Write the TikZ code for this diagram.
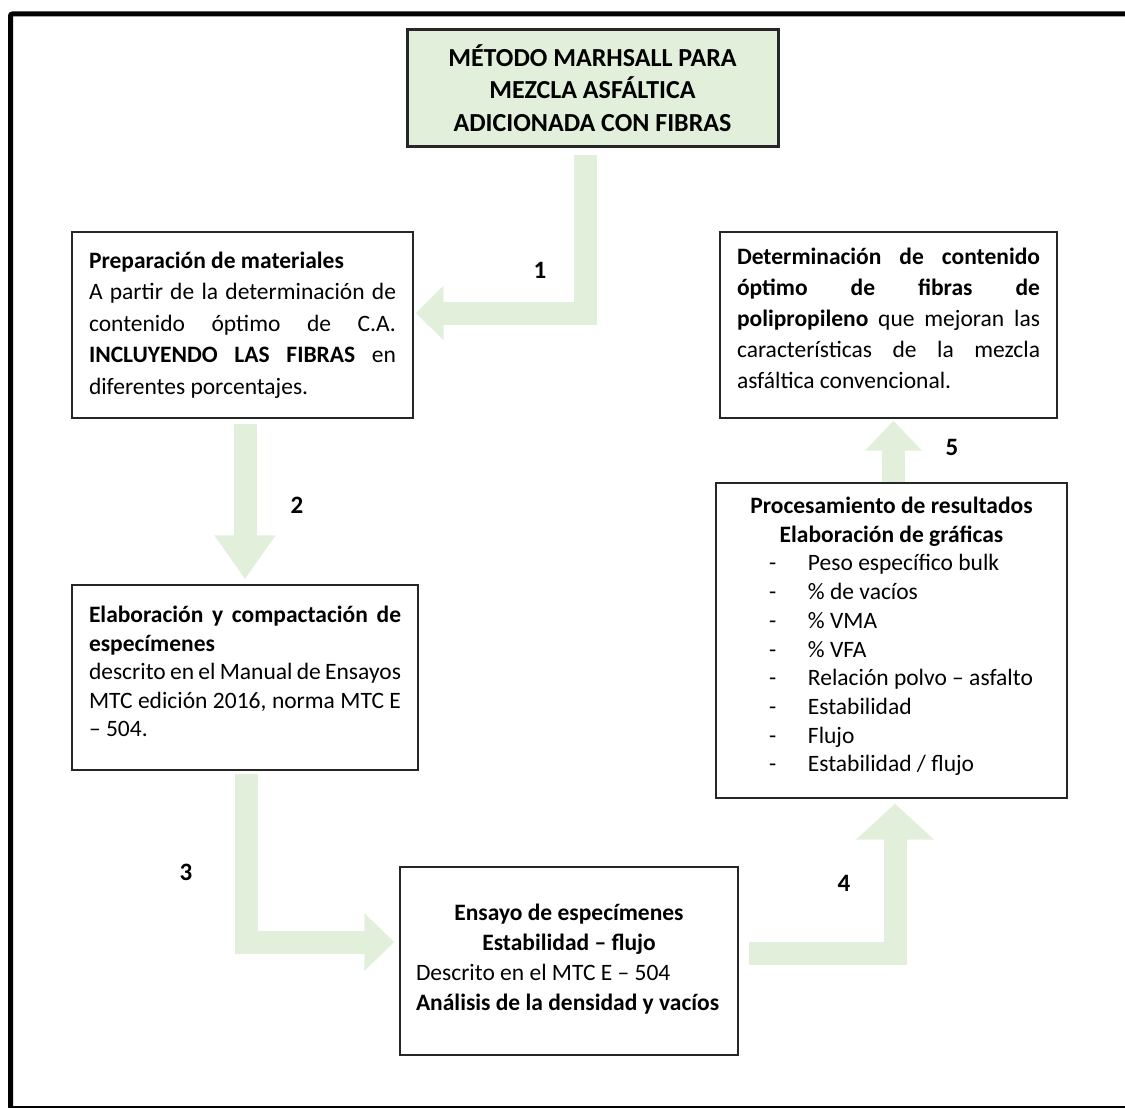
\documentclass[tikz,border=0pt]{standalone}
\usepackage{fontspec}
\setmainfont{Carlito}
\usetikzlibrary{positioning}
\usetikzlibrary{arrows.meta}
\definecolor{verdeclaro}{HTML}{E2EFDA}
\newcommand{\guion}[1]{\makebox[245pt][l]{\makebox[39pt][l]{-}#1}}

\begin{document}
\begin{tikzpicture}[x=1pt, y=-1pt,
    caja/.style={draw=black!85, line width=1.3pt, inner sep=0pt, font=\fontsize{23.5}{31}\selectfont},
    flecha/.style={draw=verdeclaro, line width=23pt, line join=miter, -{Triangle[length=30pt, width=56pt]}},
    num/.style={font=\fontsize{25}{28}\selectfont\bfseries}]
  \useasboundingbox (0,0) rectangle (1125,1108);
  \clip (0,0) rectangle (1125,1108);
  % Marco
  \draw[line width=5pt, rounded corners=2pt] (10.5,14) rectangle (1140,1108.5);

  % Cajas
  \node[caja, fill=verdeclaro, line width=3pt, minimum width=371pt, minimum height=116pt, align=center,
        font=\fontsize{26}{32.5}\selectfont\bfseries] (titulo) at (592.5,88)
        {MÉTODO MARHSALL PARA\\MEZCLA ASFÁLTICA\\ADICIONADA CON FIBRAS};
  \node[caja, minimum width=341pt, minimum height=186pt, text width=307pt, align=justify,
        font=\fontsize{23.5}{31.5}\selectfont] (prep) at (242.5,325)
        {\textbf{Preparación de materiales}\\ A partir de la determinación de\linebreak contenido óptimo de C.A.\linebreak
         \textbf{INCLUYENDO LAS FIBRAS} en\linebreak diferentes porcentajes.};
  \node[caja, minimum width=346pt, minimum height=185pt, text width=312pt, align=justify,
        font=\fontsize{23.5}{28.5}\selectfont] (elab) at (245,677.5)
        {\textbf{Elaboración y compactación de\linebreak especímenes}\\ descrito en el Manual de Ensayos\linebreak
         MTC edición 2016, norma MTC E\linebreak – 504.\par\kern12pt};
  \node[caja, minimum width=338pt, minimum height=188pt, text width=306pt, align=flush center,
        font=\fontsize{23.5}{30}\selectfont] (ensayo) at (569,961)
        {\spaceskip=0pt\xspaceskip=0pt\relax
         \textbf{Ensayo de especímenes}\\ \textbf{Estabilidad – flujo}\\
         \makebox[306pt][l]{Descrito en el MTC E – 504}\\ \makebox[306pt][l]{\textbf{Análisis de la densidad y vacíos}}\par\kern3pt};
  \node[caja, minimum width=351pt, minimum height=315pt, text width=317pt, align=flush center,
        font=\fontsize{23.5}{28.7}\selectfont] (proc) at (891.5,640.5)
        {\spaceskip=0pt\xspaceskip=0pt\relax
         \textbf{Procesamiento de resultados}\\ \textbf{Elaboración de gráficas}\\
         \guion{Peso específico bulk}\\ \guion{\% de vacíos}\\ \guion{\% VMA}\\ \guion{\% VFA}\\
         \guion{Relación polvo – asfalto}\\ \guion{Estabilidad}\\ \guion{Flujo}\\ \guion{Estabilidad / flujo}\par\kern8pt};
  \node[caja, minimum width=337pt, minimum height=186pt, text width=303pt, align=justify] (deter) at (888.5,325)
        {\textbf{Determinación de contenido\linebreak óptimo de fibras de\linebreak polipropileno} que mejoran las\linebreak
         características de la mezcla\linebreak asfáltica convencional.\par\kern14pt};

  % Flechas
  \draw[flecha, -{Triangle[length=28pt, width=53pt]}] ([xshift=-7.5pt, yshift=-7pt]titulo.south) |- ([xshift=2pt, yshift=12pt]prep.east);
  \draw[flecha, -{Triangle[length=44pt, width=58pt]}] ([xshift=2.5pt, yshift=-5pt]prep.south) -- ([yshift=5pt]elab.north);
  \draw[flecha] ([xshift=1pt, yshift=-3pt]elab.south) |- ([xshift=-5pt, yshift=19pt]ensayo.west);
  \draw[flecha, -{Triangle[length=36pt, width=76pt]}] ([xshift=10pt, yshift=8pt]ensayo.east) -| ([xshift=3.5pt, yshift=-5pt]proc.south);
  \draw[flecha, -{Triangle[length=30pt, width=55pt]}] ([xshift=2pt]proc.north) -- ([xshift=5pt, yshift=-2pt]deter.south);

  % Numeros
  \node[num] (n1) at (540,270) {1};
  \node[num] (n2) at (297,505) {2};
  \node[num] (n3) at (186,872) {3};
  \node[num] (n4) at (844,883) {4};
  \node[num] (n5) at (952,447) {5};
\end{tikzpicture}
\end{document}
